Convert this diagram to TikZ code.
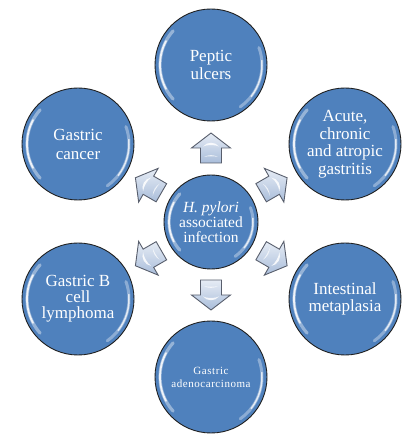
\documentclass[tikz,border=0pt]{standalone}
\usepackage{fontspec}
\setmainfont{Liberation Serif}
\usetikzlibrary{calc}
\definecolor{orb}{HTML}{4F81BD}
\definecolor{orbline}{HTML}{202020}
\definecolor{shaftlight}{HTML}{E6ECF5}
\definecolor{shaftdark}{HTML}{A9BDDA}
\definecolor{shaftline}{HTML}{585E6C}
\tikzset{
  orbnode/.style={circle,draw=orbline,line width=0.9pt,fill=orb,text=white,align=center,
    inner sep=0pt,minimum size=112pt,font=\fontsize{17}{17.5}\selectfont},
  hubnode/.style={orbnode,minimum size=94pt,font=\fontsize{15.5}{15}\selectfont},
  gleam/.style={white,line cap=round,line width=#1},
}
\newcommand{\gloss}[2]{%
  \begin{scope}[shift={(#1.center)}]
    \draw[gleam=3.2pt,opacity=0.4] (138:#2pt) arc[start angle=138,end angle=222,radius=#2pt];
    \draw[gleam=1.8pt,opacity=0.85] (152:#2pt) arc[start angle=152,end angle=208,radius=#2pt];
    \draw[gleam=3pt,opacity=0.35] (-55:#2pt) arc[start angle=-55,end angle=20,radius=#2pt];
    \draw[gleam=1.5pt,opacity=0.75] (-38:#2pt) arc[start angle=-38,end angle=5,radius=#2pt];
  \end{scope}}
\newcommand{\shaft}[2]{%
  \begin{scope}[shift={(#1)},rotate=#2-90]
    \draw[shaftline,line width=0.9pt,top color=shaftlight,bottom color=shaftdark]
      (0,15) -- (19.5,0) -- (10.5,0) -- (10.5,-15) -- (-10.5,-15) -- (-10.5,0) -- (-19.5,0) -- cycle;
    \fill[white,opacity=0.85] (-8,1.5) .. controls (-4,6.5) and (4,6.5) .. (8,1.5)
      .. controls (4,3.5) and (-4,3.5) .. (-8,1.5);
    \fill[white,opacity=0.7] (-7,-9) .. controls (-3,-6.5) and (3,-6.5) .. (7,-9)
      .. controls (3,-8) and (-3,-8) .. (-7,-9);
  \end{scope}}

\begin{document}
\begin{tikzpicture}[x=1pt,y=1pt]
  \useasboundingbox (0,0) rectangle (419,442);
  \node[hubnode] (hub) at (211,220) {\textit{H. pylori}\\associated\\infection};
  \node[orbnode,font=\fontsize{17}{18}\selectfont] (peptic) at (211,377) {Peptic\\ulcers};
  \node[orbnode,font=\fontsize{17}{19}\selectfont] (cancer) at (78,298) {Gastric\\cancer};
  \node[orbnode] (acute) at (345,298) {Acute,\\chronic\\and atropic\\gastritis};
  \node[orbnode,font=\fontsize{17}{16}\selectfont] (lymph) at (78,143) {Gastric B\\cell\\lymphoma};
  \node[orbnode] (meta) at (345,143) {Intestinal\\metaplasia};
  \node[orbnode,font=\fontsize{11}{13}\selectfont\addfontfeatures{LetterSpace=5}] (adeno) at (211,65) {Gastric\\adenocarcinoma};
  \foreach \t in {peptic,cancer,acute,lymph,meta,adeno} {\gloss{\t}{51}}
  \gloss{hub}{42}
  \foreach \t/\a/\b in {peptic/90/270,cancer/150/330,acute/30/210,lymph/210/30,meta/330/150,adeno/270/90} {
    \coordinate (gap-\t) at ($(hub.\a)!0.5!(\t.\b)$);
    \shaft{gap-\t}{\a}
  }
\end{tikzpicture}
\end{document}
